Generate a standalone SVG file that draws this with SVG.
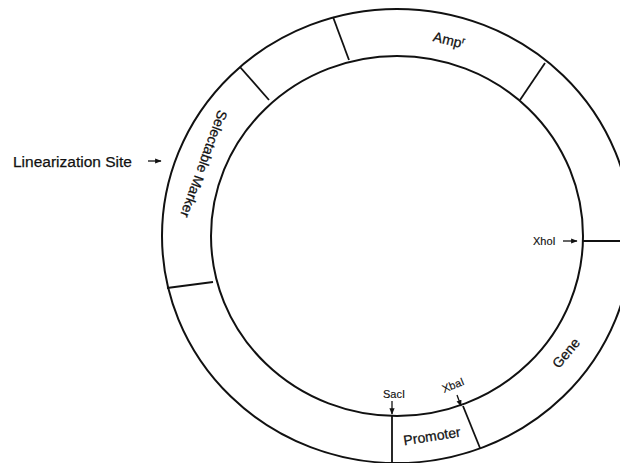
<svg xmlns="http://www.w3.org/2000/svg" width="620" height="463" viewBox="0 0 620 463">
<style>
.ring{fill:none;stroke:#111;stroke-width:2}
.div{stroke:#111;stroke-width:1.8;fill:none}
.arr{stroke:#111;stroke-width:1.3;fill:none}
text{font-family:"Liberation Sans",Arial,sans-serif;fill:#111;stroke:#111;stroke-width:0.25}
.lbl{font-size:14px}
.site{font-size:11px;stroke-width:0.15}
</style>
<defs>
<marker id="ah" viewBox="0 0 10 10" refX="9" refY="5" markerWidth="5" markerHeight="5" orient="auto" markerUnits="strokeWidth">
<path d="M0,1 L10,5 L0,9 Z" fill="#111"/>
</marker>
</defs>
<rect width="620" height="463" fill="#fff"/>
<g id="plasmid">
<ellipse class="ring" cx="397" cy="236" rx="235" ry="227"/>
<ellipse class="ring" cx="397" cy="236" rx="186" ry="180"/>
</g>
<g id="connectors">
<line class="div" x1="240" y1="67" x2="269" y2="100"/>
<line class="div" x1="333" y1="17" x2="349" y2="60"/>
<line class="div" x1="545" y1="63" x2="520" y2="100"/>
<line class="div" x1="583" y1="241" x2="620" y2="241"/>
<line class="div" x1="463" y1="406" x2="480" y2="448"/>
<line class="div" x1="392" y1="416" x2="392" y2="463"/>
<line class="div" x1="167" y1="288" x2="213" y2="282"/>
<line class="arr" x1="148" y1="161" x2="161" y2="161" marker-end="url(#ah)"/>
<line class="arr" x1="563" y1="241" x2="577" y2="241" marker-end="url(#ah)"/>
<line class="arr" x1="392" y1="401" x2="392" y2="414" marker-end="url(#ah)"/>
<line class="arr" x1="457" y1="395" x2="461" y2="406" marker-end="url(#ah)"/>
</g>
<g id="amp">
<text class="lbl" transform="translate(449,40) rotate(14)" text-anchor="middle" y="5">Amp<tspan font-size="9" dy="-5">r</tspan></text>
</g>
<g id="selectable-marker">
<text class="lbl" transform="translate(204,164) rotate(110)" text-anchor="middle" y="5">Selectable Marker</text>
</g>
<g id="linearization-site">
<text x="13" y="167" style="font-size:15.5px">Linearization Site</text>
</g>
<g id="xhoi">
<text class="site" x="533" y="245">XhoI</text>
</g>
<g id="gene">
<text class="lbl" transform="translate(566,353) rotate(-50)" text-anchor="middle" y="5">Gene</text>
</g>
<g id="xbai">
<text class="site" transform="translate(453,385) rotate(-22)" text-anchor="middle" y="4">XbaI</text>
</g>
<g id="saci">
<text class="site" x="394" y="398" text-anchor="middle">SacI</text>
</g>
<g id="promoter">
<text class="lbl" transform="translate(432,436) rotate(-9)" text-anchor="middle" y="5">Promoter</text>
</g>
</svg>
